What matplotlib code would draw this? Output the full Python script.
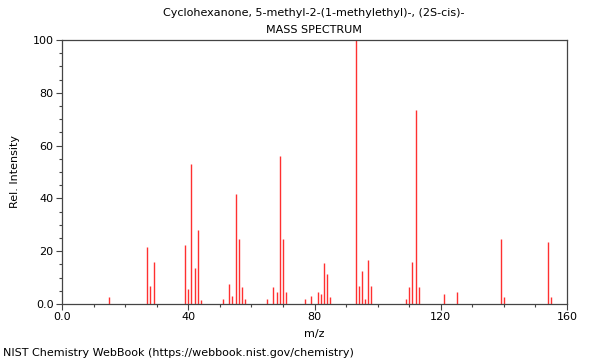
import numpy as np
import matplotlib.pyplot as plt
from matplotlib.ticker import MultipleLocator, FixedFormatter, FixedLocator

# peaks
mz = [15, 27, 28, 29, 39, 40, 41, 42, 43, 44,
      51, 53, 54, 55, 56, 57, 58, 65, 67, 68, 69, 70, 71,
      77, 79, 81, 82, 83, 84, 85, 93, 94, 95, 96, 97, 98,
      109, 110, 111, 112, 113, 121, 125, 139, 140, 154, 155]
intensity = [2.6, 21.5, 6.8, 16.0, 22.2, 5.6, 53.2, 13.8, 28.2, 1.4,
             1.9, 7.6, 3.1, 41.7, 24.6, 6.3, 1.9, 1.9, 6.3, 4.5, 56.2, 24.6, 4.5,
             1.9, 3.1, 4.5, 3.8, 15.5, 11.2, 2.6, 100.0, 6.8, 12.4, 1.9, 16.7, 6.8,
             1.9, 6.3, 16.0, 73.5, 6.3, 3.8, 4.5, 24.6, 2.5, 23.4, 2.5]

x_ticks = [0, 40, 80, 120, 160]
x_labels = ["0.0", "40", "80", "120", "160"]
y_ticks = [0, 20, 40, 60, 80, 100]
y_labels = ["0.0", "20", "40", "60", "80", "100"]

plt.rcParams['font.family'] = 'DejaVu Sans'
plt.rcParams['font.size'] = 8

fig = plt.figure(figsize=(6, 3.6), dpi=100)
ax = fig.add_axes([62 / 600, 1 - 304 / 360, 505 / 600, 264 / 360])

ax.vlines(mz, 0, intensity, colors='#ff3030', linewidth=1.0)

ax.set_xlim(0, 160)
ax.set_ylim(0, 100)
ax.xaxis.set_major_locator(FixedLocator(x_ticks))
ax.xaxis.set_major_formatter(FixedFormatter(x_labels))
ax.xaxis.set_minor_locator(MultipleLocator(10))
ax.yaxis.set_major_locator(FixedLocator(y_ticks))
ax.yaxis.set_major_formatter(FixedFormatter(y_labels))
ax.yaxis.set_minor_locator(MultipleLocator(5))
ax.tick_params(which='major', length=4, width=0.8, color='#444444', labelsize=8, pad=2)
ax.tick_params(which='minor', length=2.5, width=0.8, color='#444444')
for s in ax.spines.values():
    s.set_color('#444444')
    s.set_linewidth(0.9)

ax.set_xlabel('m/z', fontsize=8, labelpad=5)
ax.set_ylabel('Rel. Intensity', fontsize=8, labelpad=9)

fig.text(314 / 600, 1 - 13 / 360, 'Cyclohexanone, 5-methyl-2-(1-methylethyl)-, (2S-cis)-',
         ha='center', va='center', fontsize=8)
fig.text(314 / 600, 1 - 30 / 360, 'MASS SPECTRUM', ha='center', va='center', fontsize=8)
fig.text(3 / 600, 1 - 353 / 360, 'NIST Chemistry WebBook (https://webbook.nist.gov/chemistry)',
         ha='left', va='center', fontsize=8)

fig.savefig('out.png', dpi=100)
